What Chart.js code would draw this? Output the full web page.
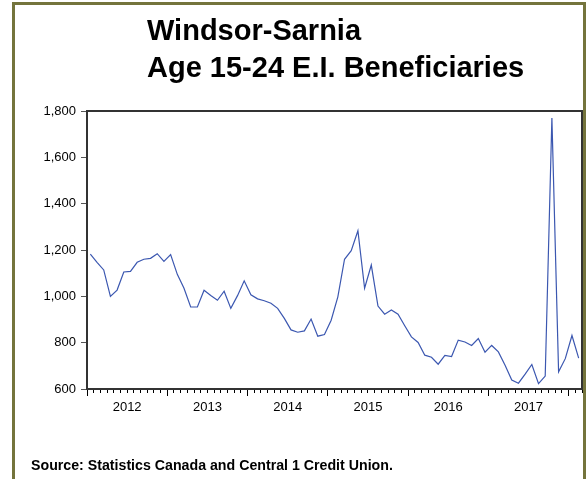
<!DOCTYPE html>
<html>
<head>
<meta charset="utf-8">
<script src="https://cdn.jsdelivr.net/npm/chart.js@4"></script>
<style>
  html, body { margin: 0; padding: 0; background: #fff; overflow: hidden; }
  body { width: 587px; height: 479px; position: relative; font-family: "Liberation Sans", Arial, sans-serif; }
  #frame { position: absolute; left: 12px; top: 2px; width: 568px; height: 500px; border: 3px solid #74743c; }
  #wrap { position: absolute; left: 0; top: 0; width: 587px; height: 479px; }
  #title { position: absolute; left: 147px; top: 12px; font-size: 29px; font-weight: bold; line-height: 37px; color: #000; }
  #source { position: absolute; left: 31px; top: 457px; font-size: 14.2px; font-weight: bold; color: #000; }
</style>
</head>
<body>
<div id="frame"></div>
<div id="wrap"><canvas id="lineChart"></canvas></div>
<div id="title">Windsor-Sarnia<br>Age 15-24 E.I. Beneficiaries</div>
<div id="source">Source: Statistics Canada and Central 1 Credit Union.</div>
<script>
// monthly data, Jan 2012 - Feb 2018
var yearLabels = ['2012', '2013', '2014', '2015', '2016', '2017'];
var beneficiaries = [
    1182, 1147, 1114, 1000, 1027, 1105, 1108, 1147, 1160, 1164, 1184, 1151, // 2012
    1180, 1095, 1035, 954, 954, 1026, 1004, 983, 1022, 948, 1003, 1067,     // 2013
    1007, 989, 981, 970, 948, 905, 855, 845, 851, 902, 828, 835,            // 2014
    897, 998, 1160, 1197, 1283, 1035, 1135, 958, 923, 941, 923, 873,        // 2015
    825, 801, 746, 737, 707, 745, 740, 811, 803, 788, 818, 759,             // 2016
    788, 760, 703, 639, 625, 664, 706, 623, 656, 1770, 674, 731,            // 2017
    831, 733                                                                // 2018
];
var yTicks = [600, 800, 1000, 1200, 1400, 1600, 1800];

document.addEventListener("DOMContentLoaded", function () {
    var points = beneficiaries.map(function (v, i) { return { x: i + 0.5, y: v }; });

    // closes the plot box on top and right
    var boxPlugin = {
        id: 'plotBox',
        afterDraw: function (chart) {
            var a = chart.chartArea, c = chart.ctx;
            c.save();
            c.strokeStyle = '#333';
            c.lineWidth = 2;
            c.strokeRect(a.left, a.top, a.right - a.left, a.bottom - a.top);
            c.restore();
        }
    };

    var ctx = document.getElementById('lineChart').getContext('2d');
    new Chart(ctx, {
        type: 'line',
        data: {
            datasets: [{
                data: points,
                borderColor: '#3b57b0',
                borderWidth: 1.2,
                pointRadius: 0,
                fill: false,
                tension: 0
            }]
        },
        options: {
            responsive: true,
            maintainAspectRatio: false,
            animation: false,
            layout: { padding: { left: 37, top: 111, right: 5, bottom: 60 } },
            plugins: { legend: { display: false }, tooltip: { enabled: false } },
            scales: {
                x: {
                    type: 'linear',
                    min: 0,
                    max: beneficiaries.length,
                    afterFit: function (s) { s.height = 30; },
                    grid: {
                        drawOnChartArea: false,
                        tickLength: 7,
                        tickColor: '#000',
                        tickBorderDash: function (c) { return c.tick.value % 12 === 0 ? [] : [3, 20]; }
                    },
                    border: { color: '#222', width: 2 },
                    ticks: {
                        stepSize: 1,
                        autoSkip: false,
                        maxRotation: 0,
                        padding: 4,
                        color: '#000',
                        font: { family: 'Liberation Sans, Arial', size: 13 },
                        callback: function (v) {
                            return v % 12 === 6 ? yearLabels[(v - 6) / 12] : '';
                        }
                    }
                },
                y: {
                    min: yTicks[0],
                    max: yTicks[yTicks.length - 1],
                    afterFit: function (s) { s.width = 50; },
                    grid: { drawOnChartArea: false, tickLength: 6, tickColor: '#555' },
                    border: { color: '#222', width: 2 },
                    ticks: {
                        stepSize: 200,
                        padding: 5,
                        color: '#000',
                        font: { family: 'Liberation Sans, Arial', size: 13 },
                        callback: function (v) { return v.toLocaleString('en-US'); }
                    }
                }
            }
        },
        plugins: [boxPlugin]
    });
});
</script>
</body>
</html>
